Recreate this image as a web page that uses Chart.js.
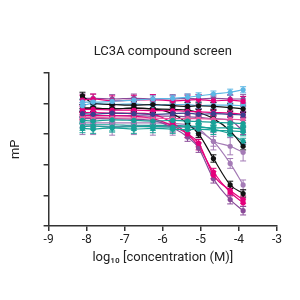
<!DOCTYPE html>
<html>
<head>
<meta charset="utf-8">
<title>LC3A compound screen</title>
<script src="https://cdn.jsdelivr.net/npm/chart.js@4.4.1/dist/chart.umd.min.js"></script>
<style>
    html, body { margin: 0; padding: 0; background: #ffffff; }
    #wrap { width: 300px; height: 300px; }
</style>
</head>
<body>
<div id="wrap"><canvas id="screenChart" width="300" height="300"></canvas></div>
<script>
// log10 concentrations of the dilution series
let concentrations = [-8.11, -7.83, -7.33, -6.76, -6.26, -5.74, -5.35, -5.06, -4.67, -4.23, -3.89];
let xTicks = [-9, -8, -7, -6, -5, -4, -3];
let yTicks = [0, 50, 100, 150, 200, 250];

// mP readings per compound
let lightBlueRise = [202, 202, 203, 205, 207, 208, 210, 212, 215, 218, 222];
let magentaTop = [205, 207, 204, 205, 206, 204, 205, 206, 204, 205, 203];
let blackTop = [212, 200, 198, 197, 198, 196, 195, 196, 195, 193, 191];
let lightBlueFlat = [196, 200, 198, 199, 197, 198, 198, 196, 197, 197, 196];
let indigoFlat = [183, 182, 184, 183, 182, 183, 184, 182, 183, 182, 181];
let tealFlat = [172, 171, 173, 172, 171, 172, 171, 170, 169, 168, 167];
let tealLow = [162, 163, 161, 162, 162, 161, 162, 161, 160, 160, 158];
let tealBottom = [159, 158, 160, 158, 159, 158, 157, 158, 156, 155, 154];
let magentaMid = [190, 190, 189, 189, 188, 188, 187, 186, 185, 184, 182];
let purpleTop = [208, 208, 207, 208, 207, 207, 208, 207, 208, 207, 207];
let pinkFlat = [177, 177, 176, 176, 176, 175, 175, 175, 174, 174, 173];
let blackDrop = [192, 192, 191, 192, 191, 183, 167, 150, 110, 67, 53];
let magentaDrop = [180, 180, 180, 179, 175, 163, 150, 135, 83, 58, 43];
let purpleDrop = [175, 175, 175, 174, 172, 160, 145, 127, 77, 43, 25];
let magentaDrop2 = [185, 185, 184, 184, 182, 168, 150, 130, 88, 55, 38];
let lilacDrop = [168, 168, 168, 168, 168, 167, 165, 155, 138, 102, 67];
let lilacLate = [163, 163, 162, 163, 162, 162, 161, 158, 138, 130, 120];
let blackLate = [192, 192, 191, 192, 191, 190, 189, 185, 175, 155, 130];
let tealLate = [165, 165, 165, 164, 164, 164, 163, 162, 158, 150, 138];
let purpleLate = [180, 180, 180, 180, 179, 179, 178, 177, 175, 172, 155];

// typical SD of each compound (mP)
let spread = [5, 8, 6, 5, 5, 5, 6, 7, 5, 7, 5, 6, 6, 7, 6, 8, 14, 6, 5, 6];

let magenta = '#e4007c';
let black = '#111111';
let lightBlue = '#5cb6e4';
let teal = '#17a197';
let purple = '#8a4a98';
let lilac = '#a47bb6';
let indigo = '#3c3f8e';
let pink = '#e9569e';

let series = [
    [lightBlueRise, lightBlue],
    [magentaTop, magenta],
    [blackTop, black],
    [lightBlueFlat, lightBlue],
    [indigoFlat, indigo],
    [tealFlat, teal],
    [tealLow, teal],
    [tealBottom, teal],
    [magentaMid, magenta],
    [purpleTop, purple],
    [pinkFlat, pink],
    [blackDrop, black],
    [magentaDrop, magenta],
    [purpleDrop, purple],
    [magentaDrop2, magenta],
    [lilacDrop, lilac],
    [lilacLate, lilac],
    [blackLate, black],
    [tealLate, teal],
    [purpleLate, purple]
];

function makeDataset(values, color, i) {
    let points = [];
    for (let j = 0; j < concentrations.length; j++) {
        points.push({ x: concentrations[j], y: values[j] });
    }
    return {
        data: points,
        sd: spread[i],
        borderColor: color,
        backgroundColor: color,
        borderWidth: 1.2,
        pointRadius: 2.6,
        pointBorderWidth: 0,
        cubicInterpolationMode: 'monotone',
        fill: false
    };
}

let datasets = [];
for (let i = 0; i < series.length; i++) {
    datasets.push(makeDataset(series[i][0], series[i][1], i));
}

// draws the vertical error bars with caps
let errorBars = {
    id: 'errorBars',
    beforeDatasetsDraw(chart) {
        let ctx = chart.ctx;
        let yScale = chart.scales.y;
        ctx.save();
        for (let i = chart.data.datasets.length - 1; i >= 0; i--) {
            let ds = chart.data.datasets[i];
            let meta = chart.getDatasetMeta(i);
            ctx.strokeStyle = ds.borderColor;
            ctx.lineWidth = 1;
            for (let j = 0; j < meta.data.length; j++) {
                let pt = meta.data[j];
                let top = yScale.getPixelForValue(ds.data[j].y + ds.sd);
                let bottom = yScale.getPixelForValue(ds.data[j].y - ds.sd);
                ctx.beginPath();
                ctx.moveTo(pt.x, top);
                ctx.lineTo(pt.x, bottom);
                ctx.moveTo(pt.x - 3, top);
                ctx.lineTo(pt.x + 3, top);
                ctx.moveTo(pt.x - 3, bottom);
                ctx.lineTo(pt.x + 3, bottom);
                ctx.stroke();
            }
        }
        ctx.restore();
    }
};

Chart.defaults.font.family = 'Roboto, "DejaVu Sans", sans-serif';
Chart.defaults.color = '#222222';

let screenChart = new Chart(document.getElementById('screenChart').getContext('2d'), {
    type: 'line',
    data: { datasets: datasets },
    options: {
        responsive: false,
        animation: false,
        layout: { padding: { top: 34, left: 4, right: 23, bottom: 30 } },
        plugins: {
            legend: { display: false },
            tooltip: { enabled: false },
            title: {
                display: true,
                fullSize: false,
                text: 'LC3A compound screen',
                color: '#222222',
                font: { size: 13, weight: 'normal' },
                padding: { top: 10, bottom: 13 }
            }
        },
        scales: {
            x: {
                type: 'linear',
                min: xTicks[0],
                max: xTicks[xTicks.length - 1],
                afterBuildTicks: function (axis) {
                    axis.ticks = xTicks.map(function (v) { return { value: v }; });
                },
                ticks: { color: '#222222', font: { size: 12 }, padding: 2 },
                grid: { drawOnChartArea: false, drawTicks: true, tickLength: 5, color: '#333333', lineWidth: 1.5 },
                border: { color: '#333333', width: 1.5 },
                title: { display: true, text: 'log₁₀ [concentration (M)]', color: '#222222', font: { size: 13 }, padding: { top: 1 } }
            },
            y: {
                min: yTicks[0],
                max: yTicks[yTicks.length - 1],
                afterBuildTicks: function (axis) {
                    axis.ticks = yTicks.map(function (v) { return { value: v }; });
                },
                ticks: { display: false },
                grid: { drawOnChartArea: false, drawTicks: true, tickLength: 5, color: '#333333', lineWidth: 1.5 },
                border: { color: '#333333', width: 1.5 },
                title: { display: true, text: 'mP', color: '#222222', font: { size: 13 }, padding: { bottom: 20 } }
            }
        }
    },
    plugins: [errorBars]
});
</script>
</body>
</html>
